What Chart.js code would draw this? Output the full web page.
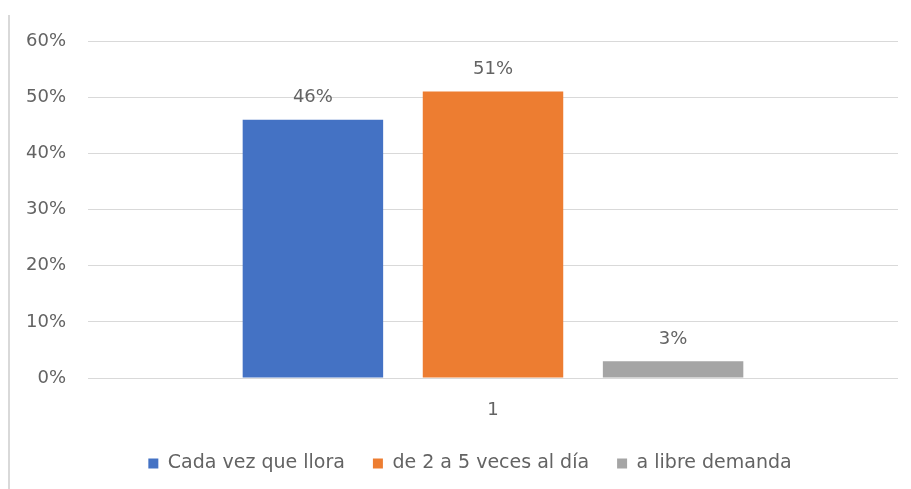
<!DOCTYPE html>
<html>
<head>
<meta charset="utf-8">
<script src="https://cdn.jsdelivr.net/npm/chart.js@4.4.1/dist/chart.umd.min.js"></script>
<style>
  html, body { margin: 0; padding: 0; background: #ffffff; }
  #wrap { position: relative; width: 911px; height: 489px; }
  #frame { position: absolute; left: 8px; top: 15px; width: 2px; height: 474px; background: #d9d9d9; }
  canvas { position: absolute; left: 0; top: 0; }
</style>
</head>
<body>
<div id="wrap">
  <div id="frame"></div>
  <canvas id="c" width="911" height="489"></canvas>
</div>
<script>
const categories = ['1'];
const seriesNames = ['Cada vez que llora', 'de 2 a 5 veces al día', 'a libre demanda'];
const cadaVez = [46];
const de2a5 = [51];
const libreDemanda = [3];
const yTicks = [0, 10, 20, 30, 40, 50, 60];
const colors = ['#4472C4', '#ED7D31', '#A5A5A5'];

const FONT = 'DejaVu Sans';
const TEXT = '#636363';

const dataLabels = {
  id: 'dataLabels',
  afterDatasetsDraw(chart) {
    const ctx = chart.ctx;
    ctx.save();
    ctx.font = '18px "' + FONT + '"';
    ctx.fillStyle = TEXT;
    ctx.textAlign = 'center';
    ctx.textBaseline = 'bottom';
    chart.data.datasets.forEach((ds, i) => {
      const meta = chart.getDatasetMeta(i);
      meta.data.forEach((bar, j) => {
        ctx.fillText(ds.data[j] + '%', bar.x, bar.y - 13);
      });
    });
    ctx.restore();
  }
};

// shift the legend's centring box so it is centred like the original
const legendShift = {
  id: 'legendShift',
  afterLayout(chart) {
    if (chart.legend) { chart.legend.left += 42; }
  }
};

new Chart(document.getElementById('c'), {
  type: 'bar',
  data: {
    labels: categories,
    datasets: [
      { label: seriesNames[0], data: cadaVez, backgroundColor: colors[0] },
      { label: seriesNames[1], data: de2a5, backgroundColor: colors[1] },
      { label: seriesNames[2], data: libreDemanda, backgroundColor: colors[2] }
    ]
  },
  options: {
    responsive: false,
    animation: false,
    devicePixelRatio: 1,
    categoryPercentage: 0.667,
    barPercentage: 0.78,
    layout: { padding: { left: 0, right: 13, top: 41, bottom: 6 } },
    scales: {
      x: {
        grid: { display: false, drawTicks: false },
        border: { display: false },
        ticks: { color: TEXT, font: { family: FONT, size: 18 }, padding: 22 },
        afterFit(scale) { scale.height = 48; }
      },
      y: {
        min: 0, max: 60,
        afterBuildTicks(scale) { scale.ticks = yTicks.map(v => ({ value: v })); },
        grid: { color: '#d9d9d9', lineWidth: 1, drawTicks: false },
        border: { display: false },
        ticks: {
          color: TEXT,
          font: { family: FONT, size: 18 },
          padding: 22,
          callback: v => v + '%'
        },
        afterFit(scale) { scale.width = 88; }
      }
    },
    plugins: {
      legend: {
        position: 'bottom',
        labels: {
          boxWidth: 10,
          boxHeight: 10,
          padding: 28,
          color: TEXT,
          font: { family: FONT, size: 19 }
        }
      },
      tooltip: { enabled: false },
      title: { display: false }
    }
  },
  plugins: [dataLabels, legendShift]
});
</script>
</body>
</html>
